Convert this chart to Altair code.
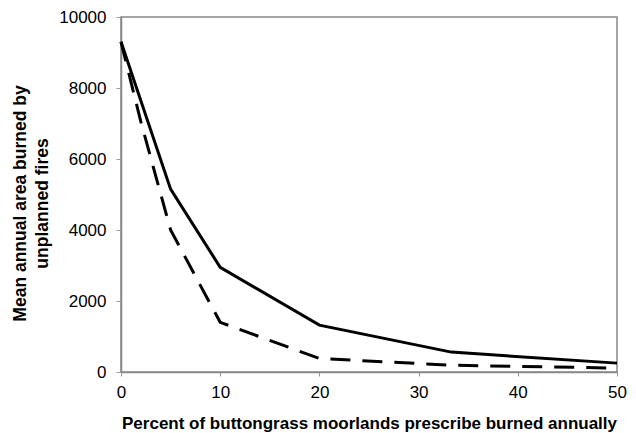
import altair as alt
import pandas as pd

# Percent of moorland burned annually (x) and mean annual area burned by unplanned fires (y)
solid_x = [0, 5, 10, 20, 33.3, 50]
solid_y = [9300, 5150, 2950, 1320, 560, 250]

dashed_x = [0, 2, 5, 10, 20, 33.3, 50]
dashed_y = [9300, 7050, 4000, 1400, 380, 190, 110]

df = pd.concat([
    pd.DataFrame({"pct": solid_x, "area": solid_y, "series": "solid"}),
    pd.DataFrame({"pct": dashed_x, "area": dashed_y, "series": "dashed"}),
])

x_enc = alt.X(
    "pct:Q",
    scale=alt.Scale(domain=[0, 50], nice=False),
    axis=alt.Axis(
        values=[0, 10, 20, 30, 40, 50], format="d", labelFlush=False,
        title="Percent of buttongrass moorlands prescribe burned annually",
        titleFont="Liberation Sans", titleFontSize=17, titleFontWeight="bold",
        titleColor="black", titleX=248, titleY=56, titleBaseline="alphabetic",
        labelFont="Liberation Sans", labelFontSize=17, labelColor="black",
        labelPadding=8, tickSize=4, tickColor="#999", domainColor="#888",
        domainWidth=1.5, grid=False,
    ),
)
y_enc = alt.Y(
    "area:Q",
    scale=alt.Scale(domain=[0, 10000], nice=False),
    axis=alt.Axis(
        values=[0, 2000, 4000, 6000, 8000, 10000], format="d",
        title=["Mean annual area burned by", "unplanned fires"],
        titleFont="Liberation Sans", titleFontSize=17.5, titleFontWeight="bold",
        titleColor="black", titleAngle=-90, titleX=-110, titleY=186,
        titleBaseline="top", titleAlign="center", titleLineHeight=22,
        labelFont="Liberation Sans", labelFontSize=17, labelColor="black",
        labelPadding=10, tickSize=5, tickColor="#999", domainColor="#888",
        domainWidth=1.5, grid=False,
    ),
)

base = alt.Chart(df).encode(x=x_enc, y=y_enc)

solid = base.transform_filter(alt.datum.series == "solid").mark_line(
    color="black", strokeWidth=3
)
dashed = base.transform_filter(alt.datum.series == "dashed").mark_line(
    color="black", strokeWidth=3, strokeDash=[20, 12]
)

chart = (
    alt.layer(solid, dashed)
    .properties(
        width=496, height=355,
        autosize=alt.AutoSizeParams(type="none"),
        padding={"left": 121, "top": 17, "right": 19, "bottom": 61},
        background="white",
    )
    .configure_view(stroke="#888", strokeWidth=1.5)
)

chart.save("out.html", embed_options={"renderer": "svg", "actions": False})
